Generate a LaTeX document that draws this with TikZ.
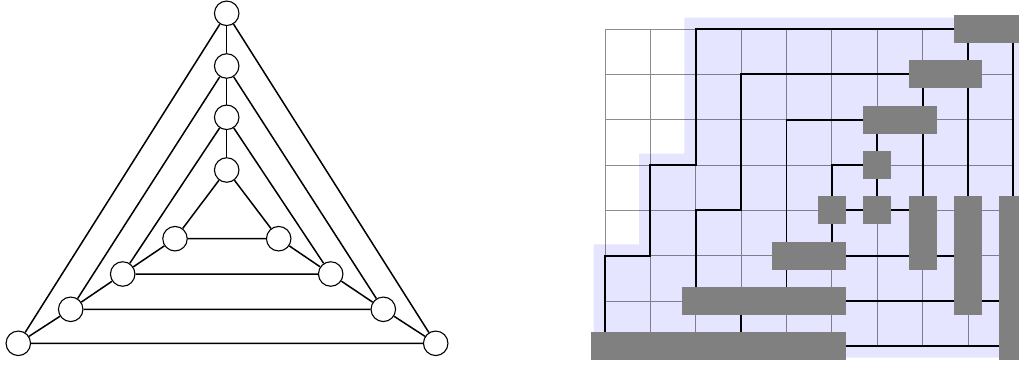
\documentclass[tikz,border=0pt]{standalone}
\begin{document}
\tikzset{
  vtx/.style={circle, draw=black, fill=white, line width=1.1pt, minimum size=24.5pt, inner sep=0pt},
  gedge/.style={line width=1.5pt},
  wire/.style={line width=1.9pt},
  blk/.style={fill=gray, draw=none},
  cellgrid/.style={draw=black, opacity=0.45, line width=0.8pt},
  region/.style={fill=blue!10, draw=none},
}
\begin{tikzpicture}[x=1pt,y=1pt]
\useasboundingbox (0,0) rectangle (1019,365);
\clip (0,0) rectangle (1019,365);
% ---------- triangle graph ----------
\node[vtx] (t1) at (226.7,351.7) {};
\node[vtx] (t2) at (226.7,299) {};
\node[vtx] (t3) at (226.7,247.7) {};
\node[vtx] (t4) at (226.7,195) {};
\node[vtx] (bl) at (18.3,21.7) {};
\node[vtx] (br) at (435.7,21.7) {};
\node[vtx] (l2) at (70.7,55.7) {};
\node[vtx] (r2) at (383.3,55.7) {};
\node[vtx] (l3) at (122.7,91) {};
\node[vtx] (r3) at (330.7,91) {};
\node[vtx] (l4) at (175,126.3) {};
\node[vtx] (r4) at (278.7,126.3) {};
\draw[gedge] (t1)--(t2)--(t3)--(t4);
\draw[gedge] (t1)--(bl) (t1)--(br) (bl)--(br);
\draw[gedge] (t2)--(l2) (t2)--(r2) (l2)--(r2);
\draw[gedge] (t3)--(l3) (t3)--(r3) (l3)--(r3);
\draw[gedge] (t4)--(l4) (t4)--(r4) (l4)--(r4);
\draw[gedge] (bl)--(l2)--(l3)--(l4);
\draw[gedge] (br)--(r2)--(r3)--(r4);
% ---------- routing grid ----------
\begin{scope}[shift={(605pt,18.7pt)}, x=45.37pt, y=45.33pt]
\fill[region] (-0.25,-0.25) -| (9.4,7.25) -| (1.75,4.25) -| (0.75,2.25) -| (-0.25,-0.25) -- cycle;
\draw[cellgrid, step={(1,1)}] (0,0) grid (9,7);
% wires
\draw[wire] (0,0) |- (1,2) |- (2,4) |- (8,7);
\draw[wire] (3,0) -- (3,1);
\draw[wire] (2,1) |- (3,3) |- (7,6);
\draw[wire] (4,1) -- (4,5) -- (6,5);
\draw[wire] (5,2) |- (6,4);
\draw[wire] (6,5) -- (6,3);
\draw[wire] (5,3) -- (7,3);
\draw[wire] (7,6) -- (7,2);
\draw[wire] (8,7) -- (8,1);
\draw[wire] (9,7) -- (9,0);
\draw[wire] (5,2) -- (8,2);
\draw[wire] (5,1) -- (9,1);
\draw[wire] (5,0) -- (9,0);
% blocks
\fill[blk] (7.69,6.69) rectangle (9.31,7.31);
\fill[blk] (6.69,5.69) rectangle (8.31,6.31);
\fill[blk] (5.69,4.69) rectangle (7.31,5.31);
\fill[blk] (5.69,3.69) rectangle (6.31,4.31);
\fill[blk] (4.69,2.69) rectangle (5.31,3.31);
\fill[blk] (5.69,2.69) rectangle (6.31,3.31);
\fill[blk] (6.69,1.69) rectangle (7.31,3.31);
\fill[blk] (7.69,0.69) rectangle (8.31,3.31);
\fill[blk] (8.69,-0.31) rectangle (9.31,3.31);
\fill[blk] (3.69,1.69) rectangle (5.31,2.31);
\fill[blk] (1.69,0.69) rectangle (5.31,1.31);
\fill[blk] (-0.31,-0.31) rectangle (5.31,0.31);
\end{scope}
\end{tikzpicture}
\end{document}
